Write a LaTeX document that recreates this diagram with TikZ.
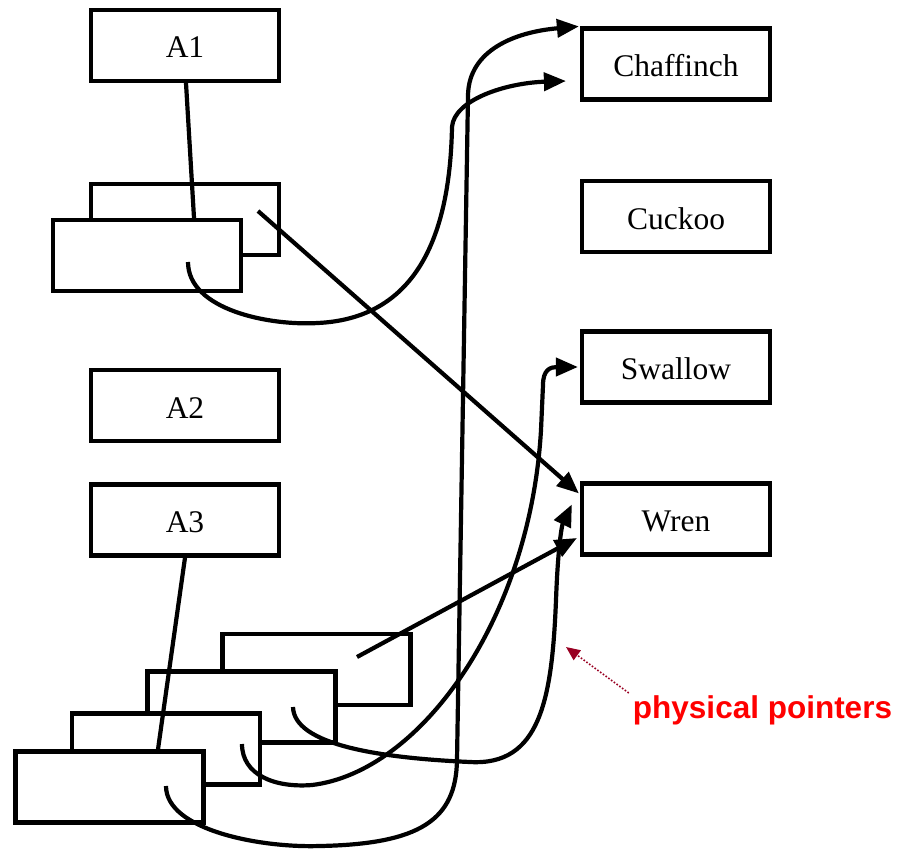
\documentclass[tikz,border=0pt]{standalone}
\usepackage{fontspec}
\setmainfont{Liberation Serif}
\newfontfamily\labelfont{Liberation Sans}
\usetikzlibrary{arrows.meta,calc}
\definecolor{ptrred}{HTML}{FF0000}
\definecolor{ptrdark}{HTML}{990022}
\begin{document}
\begin{tikzpicture}[x=1pt,y=-1pt,
  rec/.style={draw,line width=4.2pt,fill=white,minimum width=188pt,minimum height=71pt,
    inner sep=0pt,text height=25pt,text depth=0pt,font=\fontsize{31.5}{36}\selectfont},
  link/.style={line width=4.2pt},
  ptr/.style={line width=4.2pt,-{Triangle[length=22pt,width=18pt]}},
  note/.style={font=\labelfont\bfseries\fontsize{31.5}{36}\selectfont,text=ptrred,inner sep=0pt},
  noteptr/.style={ptrdark,line width=1.6pt,dash pattern=on 1.6pt off 1.8pt,
    -{Triangle[length=14pt,width=12pt]}},
]
\useasboundingbox (0,0) rectangle (901,848);

% index entries
\node[rec] (A1) at (185,45.5) {A1};
\node[rec] (A2) at (185,405.5) {A2};
\node[rec] (A3) at (185,520) {A3};

% record stack of A1
\node[rec] (A1b) at (185,219.5) {};
\node[rec] (A1f) at (147,255.5) {};

% record stack of A3
\node[rec] (S4) at (316.5,669.5) {};
\node[rec] (S3) at (241.5,707) {};
\node[rec] (S2) at (166,749) {};
\node[rec] (S1) at (109.5,787) {};

% target records
\node[rec] (Chaffinch) at (676,64) {Chaffinch};
\node[rec] (Cuckoo) at (676,216.5) {Cuckoo};
\node[rec] (Swallow) at (676,367) {Swallow};
\node[rec] (Wren) at (676,519) {Wren};

% pointer origins inside the records
\coordinate (A1bp) at ($(A1b.center)+(73,-8.5)$);
\coordinate (A1fp) at ($(A1f.center)+(41,6.5)$);
\coordinate (S4p) at ($(S4.center)+(40.5,-12.5)$);
\coordinate (S3p) at ($(S3.center)+(51.5,0)$);
\coordinate (S2p) at ($(S2.center)+(76,-5)$);
\coordinate (S1p) at ($(S1.center)+(56.5,-1)$);

% pointer targets
\coordinate (Ct1) at ($(Chaffinch.north west)+(-1,0)$);
\coordinate (Ct2) at ($(Chaffinch.west)+(-14,17)$);
\coordinate (St) at ($(Swallow.west)+(-2,0)$);
\coordinate (Wt1) at ($(Wren.north west)+(-1,12)$);
\coordinate (Wt2) at ($(Wren.north west)+(-8,23)$);
\coordinate (Wt3) at ($(Wren.west)+(-3,19)$);

% index entries to their record stacks
\draw[link] ($(A1.south)+(1,0)$) -- ($(A1f.north)+(47,0)$);
\draw[link] (A3.south) -- ($(S1.north)+(48.5,0)$);

% physical pointers
\draw[ptr] (A1bp) -- (Wt1);
\draw[ptr] (A1fp) .. controls (188,310) and (270,326) .. (318,323)
  .. controls (420,318) and (450,230) .. (452,127)
  .. controls (454,100) and (505,83) .. (Ct2);
\draw[ptr] (S4p) -- (Wt3);
\draw[ptr] (S3p) .. controls (294,745) and (380,758) .. (470,762)
  .. controls (540,766) and (552,700) .. (556,600)
  .. controls (558,545) and (562,525) .. (Wt2);
\draw[ptr] (S2p) .. controls (242,775) and (275,788) .. (312,785)
  .. controls (420,772) and (530,620) .. (541,430) -- (543,385)
  .. controls (543,370) and (550,367) .. (St);
\draw[ptr] (S1p) .. controls (166,830) and (260,848) .. (320,846)
  .. controls (420,844) and (456,820) .. (457,760) -- (468,95)
  .. controls (469,50) and (515,32) .. (Ct1);

% annotation
\node[note,anchor=base] (lbl) at (762.5,718) {physical pointers};
\coordinate (mark) at (566,647);
\draw[noteptr] ($(lbl.north west)+(-4,-2)$) -- (mark);
\end{tikzpicture}
\end{document}
